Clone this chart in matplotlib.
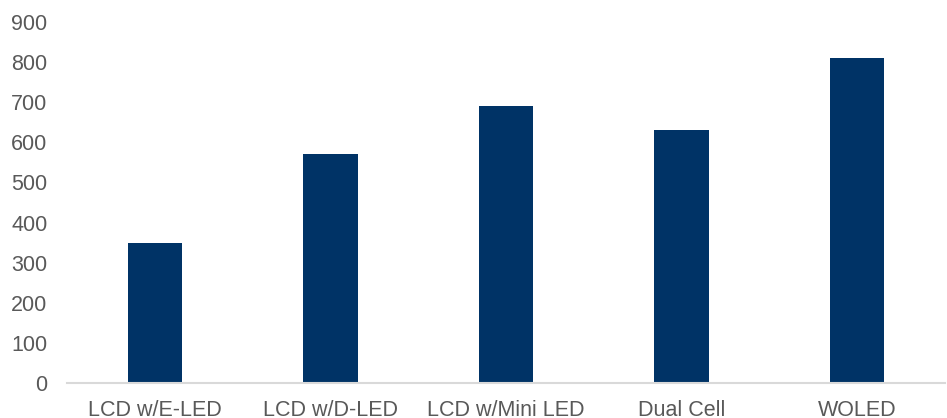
import matplotlib.pyplot as plt

categories = ["LCD w/E-LED", "LCD w/D-LED", "LCD w/Mini LED", "Dual Cell", "WOLED"]
values = [350, 570, 690, 630, 810]
yticks = [0, 100, 200, 300, 400, 500, 600, 700, 800, 900]

plt.rcParams['font.family'] = ['Liberation Sans', 'DejaVu Sans']

fig = plt.figure(figsize=(9.47, 4.18), dpi=100)
ax = fig.add_axes([67/947, 1 - 383/418, 878/947, 361/418])

ax.bar(range(len(values)), values, width=0.31, color="#003366")
ax.set_xlim(-0.5, len(values) - 0.5)
ax.set_ylim(0, 900)
ax.set_yticks(yticks)
ax.set_xticks(range(len(categories)))
ax.set_xticklabels(categories)

for s in ["top", "right", "left"]:
    ax.spines[s].set_visible(False)
ax.spines["bottom"].set_color("#d9d9d9")
ax.spines["bottom"].set_linewidth(1.5)

ax.tick_params(axis="both", length=0, labelsize=15.5, labelcolor="#595959")
ax.tick_params(axis="y", pad=14)
ax.tick_params(axis="x", pad=12)

fig.savefig("out.png", dpi=100)
